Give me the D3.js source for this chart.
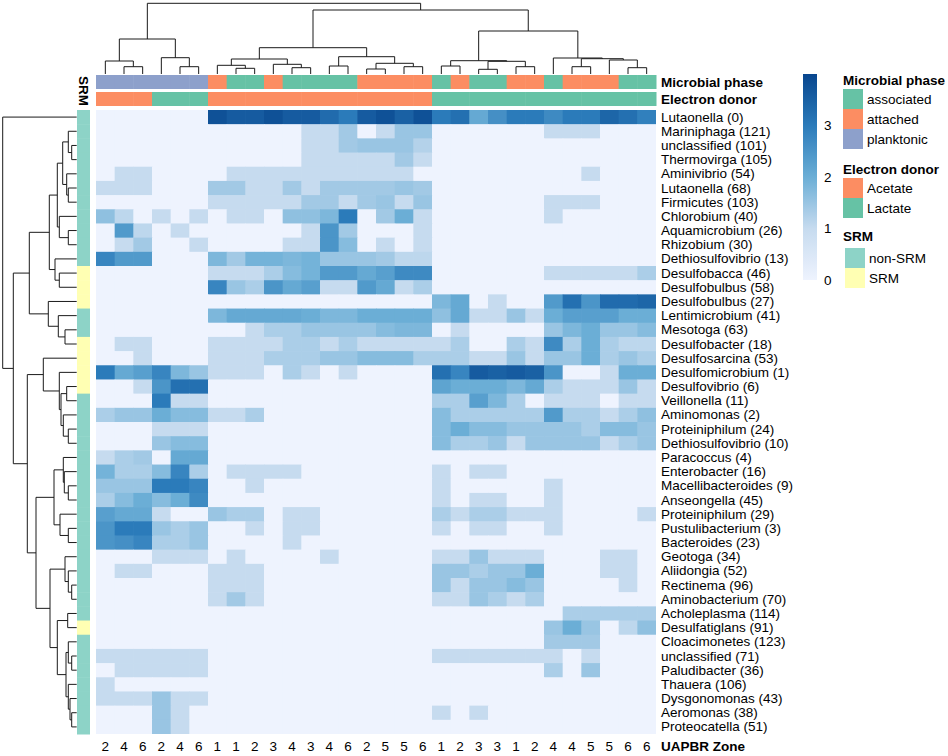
<!DOCTYPE html>
<html><head><meta charset="utf-8">
<script src="https://cdn.jsdelivr.net/npm/d3@7"></script>
<style>
body{margin:0;background:#fff;}
text{font-family:"Liberation Sans",Arial,Helvetica,sans-serif;fill:#000;}
</style>
</head><body>
<svg id="chart" width="948" height="756"></svg>
<script>
// ---------------- DATA ----------------
const taxa = ["Lutaonella (0)","Mariniphaga (121)","unclassified (101)","Thermovirga (105)","Aminivibrio (54)",
"Lutaonella (68)","Firmicutes (103)","Chlorobium (40)","Aquamicrobium (26)","Rhizobium (30)",
"Dethiosulfovibrio (13)","Desulfobacca (46)","Desulfobulbus (58)","Desulfobulbus (27)","Lentimicrobium (41)",
"Mesotoga (63)","Desulfobacter (18)","Desulfosarcina (53)","Desulfomicrobium (1)","Desulfovibrio (6)",
"Veillonella (11)","Aminomonas (2)","Proteiniphilum (24)","Dethiosulfovibrio (10)","Paracoccus (4)",
"Enterobacter (16)","Macellibacteroides (9)","Anseongella (45)","Proteiniphilum (29)","Pustulibacterium (3)",
"Bacteroides (23)","Geotoga (34)","Aliidongia (52)","Rectinema (96)","Aminobacterium (70)",
"Acholeplasma (114)","Desulfatiglans (91)","Cloacimonetes (123)","unclassified (71)","Paludibacter (36)",
"Thauera (106)","Dysgonomonas (43)","Aeromonas (38)","Proteocatella (51)"];

const zones = ["2","4","6","2","4","6","1","1","2","3","4","3","4","6","2","5","5","6","1","2","3","3","1","2","4","4","5","5","6","6"];

const microbialPhase = ["planktonic","planktonic","planktonic","planktonic","planktonic","planktonic",
"attached","associated","associated","attached","associated","associated","associated","associated",
"attached","attached","attached","attached","associated","attached","associated","associated",
"attached","attached","associated","attached","attached","attached","associated","associated"];

const electronDonor = ["Acetate","Acetate","Acetate","Lactate","Lactate","Lactate",
"Acetate","Acetate","Acetate","Acetate","Acetate","Acetate","Acetate","Acetate","Acetate","Acetate","Acetate","Acetate",
"Lactate","Lactate","Lactate","Lactate","Lactate","Lactate","Lactate","Lactate","Lactate","Lactate","Lactate","Lactate"];

const srm = ["non-SRM","non-SRM","non-SRM","non-SRM","non-SRM","non-SRM","non-SRM","non-SRM","non-SRM","non-SRM",
"non-SRM","SRM","SRM","SRM","non-SRM","non-SRM","SRM","SRM","SRM","SRM",
"non-SRM","non-SRM","non-SRM","non-SRM","non-SRM","non-SRM","non-SRM","non-SRM","non-SRM","non-SRM",
"non-SRM","non-SRM","non-SRM","non-SRM","non-SRM","non-SRM","SRM","non-SRM","non-SRM","non-SRM",
"non-SRM","non-SRM","non-SRM","non-SRM"];

// log abundance, rows = taxa, columns = samples
const abundance = [
[0,0,0,0,0,0,3.8,3.6,3.6,3.8,3.6,3.6,3.3,3.0,3.6,3.8,3.5,3.8,3.0,3.2,2.1,2.6,3.0,3.0,2.7,3.0,3.0,3.4,3.2,2.9],
[0,0,0,0,0,0,0,0,0,0,0,1,1,1.4,0,1,1.5,1.5,0,0,0,0,0,0,1,1,1,0,0,0],
[0,0,0,0,0,0,0,0,0,0,0,1,1,1.4,1.5,1.5,1.5,1.2,0,0,0,0,0,0,0,0,0,0,0,0],
[0,0,0,0,0,0,0,0,0,0,0,1,1,1,1,1,1.4,1,0,0,0,0,0,0,0,0,0,0,0,0],
[0,1,1,0,0,0,0,1,1,1,1,1,1,1,1,1,1,0,0,0,0,0,0,0,0,0,1,0,0,0],
[1,1,1,0,0,0,1.4,1.4,1,1,1.4,1,1.4,1.4,1.4,1.4,1.5,1.4,0,0,0,0,0,0,0,0,0,0,0,0],
[0,0,0,0,0,0,1,1,1,1,1,1.4,1.4,1,1.4,1.5,1,1.5,0,0,0,0,0,0,1,1,1,0,0,0],
[1.6,1.1,0,1,0,1,0,1,1,0,1.6,1.6,1.8,3.0,0,1.4,2.0,1,0,0,0,0,0,0,1,0,0,0,0,0],
[0,2.4,1.1,0,1,0,0,0,0,0,0,1,2.5,1.4,0,0,0,1,0,0,0,0,0,0,0,0,0,0,0,0],
[0,1,1.4,0,0,1,0,0,0,0,1,1,2.5,1.7,0,1,0,1,0,0,0,0,0,0,0,0,0,0,0,0],
[2.8,2.4,2.4,0,0,0,1.8,1.4,1.9,1.9,1.8,1.9,1.5,1.5,1.5,1.4,1.1,1.1,0,0,0,0,0,0,0,0,0,0,0,0],
[0,0,0,0,0,0,1,1,1,1.3,1.7,1.9,2.4,2.4,2.1,2.3,2.7,2.7,0,0,0,0,0,0,1,1,1,1,1,1.3],
[0,0,0,0,0,0,2.8,1.5,1.3,2.5,2.1,2.3,1,1,2.4,2.1,1,1.3,0,0,0,0,0,0,0,0,0,0,0,0],
[0,0,0,0,0,0,0,0,0,0,0,0,0,0,0,0,0,0,1.8,2.1,0,1,0,0,2.4,3.2,2.5,3.3,3.3,3.4],
[0,0,0,0,0,0,1.8,2.1,2.1,2.1,2.1,2.0,1.8,1.8,2.0,2.0,2.0,2.0,1.6,2.1,1,1,1.5,1,2.0,2.3,2.3,2.3,2.0,2.0],
[0,0,0,0,0,0,0,0,1,1.3,1.3,1.5,1.5,1.5,1.5,1.7,1.8,1.8,0,1,0,0,0,0,1.5,1.8,2.0,1.5,1.5,1.7],
[0,1,1,0,0,0,1,1,1,1,1.3,1.3,1,1.3,1,1,1,1,1,1.3,0,0,1.3,1,2.7,1.3,2.0,1.3,1.1,1.1],
[0,0,1,0,0,0,1,1,1,1.3,1.3,1.3,1.5,1.5,1.7,1.7,1.7,1.3,1.3,1.3,1,1,1.5,1,1.5,1.5,2.0,1.3,1.5,1.3],
[3.0,2.1,2.3,2.8,1.8,1.5,1,1,1,0,1.3,1,0,1,0,0,0,0,3.2,2.8,3.6,3.5,3.6,3.5,2.5,0,0,1,2.0,2.0],
[0,0,1,2.5,3.2,3.2,0,0,0,0,0,0,0,0,0,0,0,0,2.2,2.0,2.0,2.0,1.8,2.1,1.3,1,1,1,1.5,1],
[0,0,0,3.0,1,1,0,0,0,0,0,0,0,0,0,0,0,0,1.3,1.3,2.3,1.8,1.3,0,1,1,1,0,1,1],
[1.3,1.5,1.5,2.0,1.7,1.7,1,1,1.3,0,0,0,0,0,0,0,0,0,1.7,1.3,1.3,1.3,1.3,1.3,2.4,1.3,1.3,1,1.3,1.6],
[0,0,0,1,1,1,0,0,0,0,0,0,0,0,0,0,0,0,1.7,2.0,1.7,1.7,1.5,1.5,1.5,1.5,1.3,1.7,1.7,1.5],
[0,0,0,1.5,1.7,1.7,0,0,0,0,0,0,0,0,0,0,0,0,1.7,1.3,1.3,1.5,1,1.5,1.5,1.5,1.5,1,1.3,1.5],
[1,1.3,1.4,0,2.1,2.1,0,0,0,0,0,0,0,0,0,0,0,0,0,0,0,0,0,0,0,0,0,0,0,0],
[1.9,1.3,1.3,1.7,2.8,1.3,0,1,1,1,1,0,0,0,0,0,0,0,1,0,1,1,0,0,0,0,0,0,0,0],
[1.5,1.5,1.5,3.0,3.0,2.8,0,0,1,0,0,0,0,0,0,0,0,0,1,0,0,0,0,0,1,0,0,0,0,0],
[1.3,1.7,2.0,1.7,2.0,2.7,0,0,0,0,0,0,0,0,0,0,0,0,1,0,1,1,0,0,1,0,0,0,0,0],
[2.3,2.1,2.1,1,0,0,1.5,1.3,1.3,0,1,1,0,0,0,0,0,0,1.3,1,1.3,1.3,1,1,1,0,0,0,0,1],
[2.5,3.0,3.0,1.5,1.3,1.5,0,0,1,0,1,1,0,0,0,0,0,0,1,0,1,1,0,0,1,0,0,0,0,0],
[2.5,2.6,2.8,1.3,1.3,1.5,0,0,0,0,1,0,0,0,0,0,0,0,0,0,0,0,0,0,0,0,0,0,0,0],
[0,0,0,1,1,1,0,1,0,0,0,0,1,0,0,0,0,0,1,1,1.5,1,1,1,0,0,0,1,1,0],
[0,1,1,0,0,0,1,1,1,0,0,0,0,0,0,0,0,0,1.5,1.5,1.3,1.5,1.5,2.0,0,0,0,1,1,0],
[0,0,0,0,0,0,1,1,1,0,0,0,0,0,0,0,0,0,1.5,1,1.5,1.5,1.7,1.5,0,0,0,0,1,0],
[0,0,0,0,0,0,1,1.4,1,0,0,0,0,0,0,0,0,0,1,1,1.5,1.3,1,1.3,0,0,0,0,0,0],
[0,0,0,0,0,0,0,0,0,0,0,0,0,0,0,0,0,0,0,0,0,0,0,0,0,1.3,1.3,1.3,1.3,1.3],
[0,0,0,0,0,0,0,0,0,0,0,0,0,0,0,0,0,0,0,0,0,0,0,0,1.5,2.0,1.5,0,1.1,1.6],
[0,0,0,0,0,0,0,0,0,0,0,0,0,0,0,0,0,0,0,0,0,0,0,0,1.4,1.4,1.4,0,0,0],
[1,1,1,1,1,1,0,0,0,0,0,0,0,0,0,0,0,0,1,1,1,1,1,1,1,0,1,0,0,0],
[0,1,1,1,1,1,0,0,0,0,0,0,0,0,0,0,0,0,0,0,0,0,0,0,1.3,0,1.5,0,0,0],
[1,0,0,0,0,0,0,0,0,0,0,0,0,0,0,0,0,0,0,0,0,0,0,0,0,0,0,0,0,0],
[1,1,1,1.5,1,1,0,0,0,0,0,0,0,0,0,0,0,0,0,0,0,0,0,0,0,0,0,0,0,0],
[0,0,0,1.5,1,0,0,0,0,0,0,0,0,0,0,0,0,0,1,0,1,0,0,0,0,0,0,0,0,0],
[0,0,0,1.5,1,0,0,0,0,0,0,0,0,0,0,0,0,0,0,0,0,0,0,0,0,0,0,0,0,0]
];

// dendrograms: [mergeHeight, left, right]; integers are leaf indices
const colDendrogram = [70.7,
  [35, [13, 0, [7.3, 1, 2]], [16.3, 3, [7.3, 4, 5]]],
  [64,
    [26.3,
      [15, [8.7, 6, [5.7, 7, 8]], [9.7, 9, [6.3, 10, 11]]],
      [17.3, [8, 12, 13], [10.7, [5, 14, 15], [7.3, 16, 17]]]],
    [43,
      [13.3, [8, 18, 19], [12.7, [4.7, 20, 21], [7.3, 22, 23]]],
      [16, 24, [15.3, [7.3, 25, 26], [14, 27, [6.3, 28, 29]]]]]]];

const rowDendrogram = [74, 0,
  [63.4,
    [47.4,
      [27.4,
        [19.4, [14, [8.4, 1, [5, 2, 3]], [10, 4, [8.4, 5, 6]]], [17.4, 7, [8.4, 8, 9]]],
        [21.7, 10, [17.4, 11, 12]]],
      [28.4, 13, [18.4, 14, [11.7, 15, 16]]]],
    [49.4,
      [33.4, 17, [17.4, 18, [15.7, [10, 19, 20], [13.4, 21, [8.4, 22, 23]]]]],
      [40.7,
        [22.7, [13.4, 24, [12.4, 25, [8.4, 26, 27]]], [16.7, 28, [8.4, 29, 30]]],
        [26.7, [11.7, 31, [8.4, 32, [5, 33, 34]]],
               [19.4, [9, 35, 36], [10.7, [8.4, 37, [5, 38, 39]], [8.4, 40, [6.7, 41, [5, 42, 43]]]]]]]]]];

const legendTicks = [0, 1, 2, 3];
const phaseLevels = ["associated","attached","planktonic"];
const donorLevels = ["Acetate","Lactate"];
const srmLevels = ["non-SRM","SRM"];

// ---------------- STYLE ----------------
const phaseColor = {associated:"#66c2a5", attached:"#fc8d62", planktonic:"#8da0cb"};
const donorColor = {Acetate:"#fc8d62", Lactate:"#66c2a5"};
const srmColor = {"non-SRM":"#8dd3c7", "SRM":"#ffffb3"};
const color = d3.scaleLinear().domain([0,1,2,3,4])
  .range(["#eef3fe","#c6dbef","#6baed6","#2b7bba","#08468e"]).clamp(true);

const svg = d3.select("#chart");
const FS = 13.5;

const x = d3.scaleBand().domain(d3.range(zones.length)).range([96, 656]);
const y = d3.scaleBand().domain(d3.range(taxa.length)).range([110, 734]);

// heatmap
svg.append("rect").attr("x",96).attr("y",110).attr("width",560).attr("height",624).attr("fill",color(0));
const cells = abundance.flatMap((row,i)=>row.map((v,j)=>({i,j,v})));
svg.append("g").selectAll("rect").data(cells).join("rect")
  .attr("x",d=>x(d.j)).attr("y",d=>y(d.i))
  .attr("width",d=>x.bandwidth()+(d.j<zones.length-1?0.6:0))
  .attr("height",d=>y.bandwidth()+(d.i<taxa.length-1?0.6:0))
  .attr("fill",d=>color(d.v));

// column annotations
svg.append("g").selectAll("rect").data(microbialPhase).join("rect")
  .attr("x",(d,j)=>x(j)).attr("y",75).attr("width",x.bandwidth()+0.5).attr("height",14)
  .attr("fill",d=>phaseColor[d]);
svg.append("g").selectAll("rect").data(electronDonor).join("rect")
  .attr("x",(d,j)=>x(j)).attr("y",92).attr("width",x.bandwidth()+0.5).attr("height",14)
  .attr("fill",d=>donorColor[d]);
svg.append("text").attr("x",661).attr("y",82).attr("dominant-baseline","central")
  .attr("font-size",FS).attr("font-weight","bold").text("Microbial phase");
svg.append("text").attr("x",661).attr("y",99).attr("dominant-baseline","central")
  .attr("font-size",FS).attr("font-weight","bold").text("Electron donor");

// row annotation
svg.append("g").selectAll("rect").data(srm).join("rect")
  .attr("x",77).attr("y",(d,i)=>y(i)).attr("width",13).attr("height",y.bandwidth()+0.5)
  .attr("fill",d=>srmColor[d]);
svg.append("text").attr("transform","translate(83.5,106) rotate(90)")
  .attr("text-anchor","end").attr("dominant-baseline","central")
  .attr("font-size",FS).attr("font-weight","bold").text("SRM");

// row labels
svg.append("g").selectAll("text").data(taxa).join("text")
  .attr("x",661).attr("y",(d,i)=>y(i)+y.bandwidth()/2).attr("dominant-baseline","central")
  .attr("font-size",FS).text(d=>d);

// column labels
svg.append("g").selectAll("text").data(zones).join("text")
  .attr("x",(d,j)=>x(j)+x.bandwidth()/2).attr("y",746).attr("text-anchor","middle")
  .attr("dominant-baseline","central").attr("font-size",FS).text(d=>d);
svg.append("text").attr("x",661).attr("y",746).attr("dominant-baseline","central")
  .attr("font-size",FS).attr("font-weight","bold").text("UAPBR Zone");

// dendrograms
function layout(node, pos){
  if (typeof node === "number") return {h:0, p:pos(node)};
  const a = layout(node[1], pos), b = layout(node[2], pos);
  return {h:node[0], p:(a.p+b.p)/2, kids:[a,b]};
}
function collect(n, out){ if(n.kids){ out.push(n); n.kids.forEach(k=>collect(k,out)); } return out; }

const colRoot = layout(colDendrogram, j=>x(j)+x.bandwidth()/2);
const hy = d3.scaleLinear().domain([0, colDendrogram[0]]).range([74, 3.3]);
svg.append("g").selectAll("path").data(collect(colRoot,[])).join("path")
  .attr("d",n=>`M${n.kids[0].p},${hy(n.kids[0].h)}V${hy(n.h)}H${n.kids[1].p}V${hy(n.kids[1].h)}`)
  .attr("fill","none").attr("stroke","#1a1a1a").attr("stroke-width",1);

const rowRoot = layout(rowDendrogram, i=>y(i)+y.bandwidth()/2);
const hx = d3.scaleLinear().domain([0, rowDendrogram[0]]).range([76.7, 2.7]);
svg.append("g").selectAll("path").data(collect(rowRoot,[])).join("path")
  .attr("d",n=>`M${hx(n.kids[0].h)},${n.kids[0].p}H${hx(n.h)}V${n.kids[1].p}H${hx(n.kids[1].h)}`)
  .attr("fill","none").attr("stroke","#1a1a1a").attr("stroke-width",1);

// color legend
const defs = svg.append("defs");
const grad = defs.append("linearGradient").attr("id","g").attr("x1",0).attr("y1",1).attr("x2",0).attr("y2",0);
d3.range(0,1.0001,0.05).forEach(t=>grad.append("stop").attr("offset",t).attr("stop-color",color(4*t)));
svg.append("rect").attr("x",803).attr("y",74).attr("width",14).attr("height",206).attr("fill","url(#g)");
const ls = d3.scaleLinear().domain([0,4]).range([280,74]);
const ax = svg.append("g").attr("transform","translate(817,0)")
  .call(d3.axisRight(ls).tickValues(legendTicks).tickSize(0).tickPadding(7).tickFormat(d3.format("d")));
ax.select(".domain").remove();
ax.selectAll("text").attr("font-size",FS).attr("font-family","Liberation Sans, Arial, sans-serif").attr("fill","#000");

// categorical legends
function legend(title, levels, cmap, ty, sy, sx){
  svg.append("text").attr("x",843).attr("y",ty).attr("dominant-baseline","central")
    .attr("font-size",FS).attr("font-weight","bold").text(title);
  const g = svg.append("g");
  g.selectAll("rect").data(levels).join("rect")
    .attr("x",sx).attr("y",(d,i)=>sy+i*20).attr("width",20).attr("height",20).attr("fill",d=>cmap[d]);
  g.selectAll("text").data(levels).join("text")
    .attr("x",sx+24).attr("y",(d,i)=>sy+i*20+10).attr("dominant-baseline","central")
    .attr("font-size",FS).text(d=>d);
}
legend("Microbial phase", phaseLevels, phaseColor, 80, 89, 843);
legend("Electron donor", donorLevels, donorColor, 169, 178, 843);
legend("SRM", srmLevels, srmColor, 236, 248, 845);
</script>
</body></html>
